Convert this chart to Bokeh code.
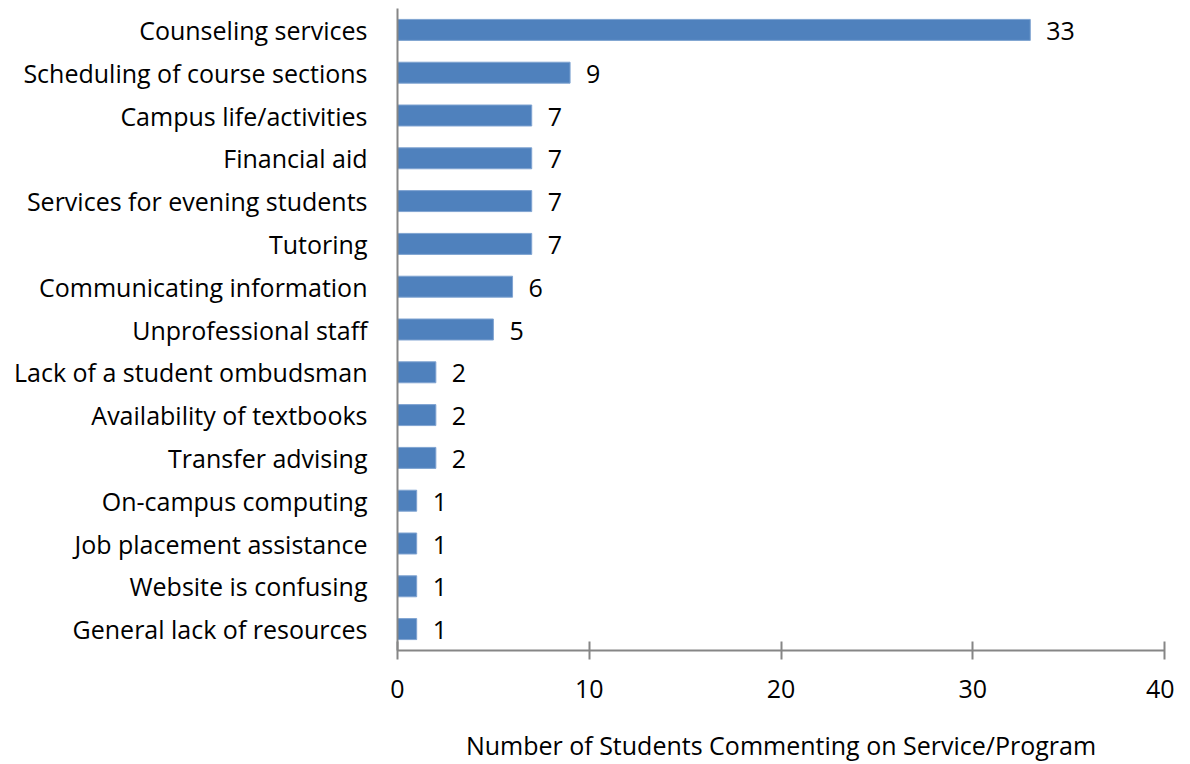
from bokeh.plotting import figure
from bokeh.models import FactorRange, Range1d, FixedTicker, ColumnDataSource
from bokeh.core.properties import value
from bokeh.embed import file_html
from bokeh.resources import INLINE

categories = [
    "Counseling services",
    "Scheduling of course sections",
    "Campus life/activities",
    "Financial aid",
    "Services for evening students",
    "Tutoring",
    "Communicating information",
    "Unprofessional staff",
    "Lack of a student ombudsman",
    "Availability of textbooks",
    "Transfer advising",
    "On-campus computing",
    "Job placement assistance",
    "Website is confusing",
    "General lack of resources",
]
counts = [33, 9, 7, 7, 7, 7, 6, 5, 2, 2, 2, 1, 1, 1, 1]
x_ticks = [0, 10, 20, 30, 40]
x_title = "Number of Students Commenting on Service/Program"

FONT = "Open Sans"
FS = "25px"
AXIS_GREY = "#868686"

src = ColumnDataSource(dict(cat=categories, n=counts, lbl=[str(v) for v in counts]))

p = figure(
    width=1174, height=764,
    y_range=FactorRange(factors=list(reversed(categories)), range_padding=0),
    x_range=Range1d(0, 40),
    output_backend="svg", toolbar_location=None,
    min_border_left=397, min_border_right=10, min_border_top=8, min_border_bottom=10,
)
p.outline_line_color = None
p.xgrid.visible = False
p.ygrid.visible = False

p.hbar(y="cat", right="n", left=0, height=0.49, source=src,
       fill_color="#4F81BD", line_color="#7FA3D1", line_width=1)

p.text(x="n", y="cat", text="lbl", source=src, x_offset=16, y_offset=1,
       text_font=value(FONT), text_font_size=FS, text_color="#000000",
       text_baseline="middle", text_align="left")

xa = p.xaxis[0]
xa.ticker = FixedTicker(ticks=x_ticks)
xa.axis_line_color = AXIS_GREY
xa.axis_line_width = 2
xa.major_tick_line_color = AXIS_GREY
xa.major_tick_line_width = 2
xa.major_tick_in = 9
xa.major_tick_out = 9
xa.minor_tick_line_color = None
xa.major_label_text_font = FONT
xa.major_label_text_font_size = FS
xa.major_label_text_color = "#000000"
xa.major_label_standoff = 20
xa.axis_label = x_title
xa.axis_label_text_font = FONT
xa.axis_label_text_font_size = FS
xa.axis_label_text_font_style = "normal"
xa.axis_label_text_color = "#000000"
xa.axis_label_standoff = 27

ya = p.yaxis[0]
ya.axis_line_color = AXIS_GREY
ya.axis_line_width = 2
ya.major_tick_line_color = None
ya.minor_tick_line_color = None
ya.major_label_text_font = FONT
ya.major_label_text_font_size = FS
ya.major_label_text_color = "#000000"
ya.major_label_standoff = 24

open("out.html", "w").write(file_html(p, INLINE))
